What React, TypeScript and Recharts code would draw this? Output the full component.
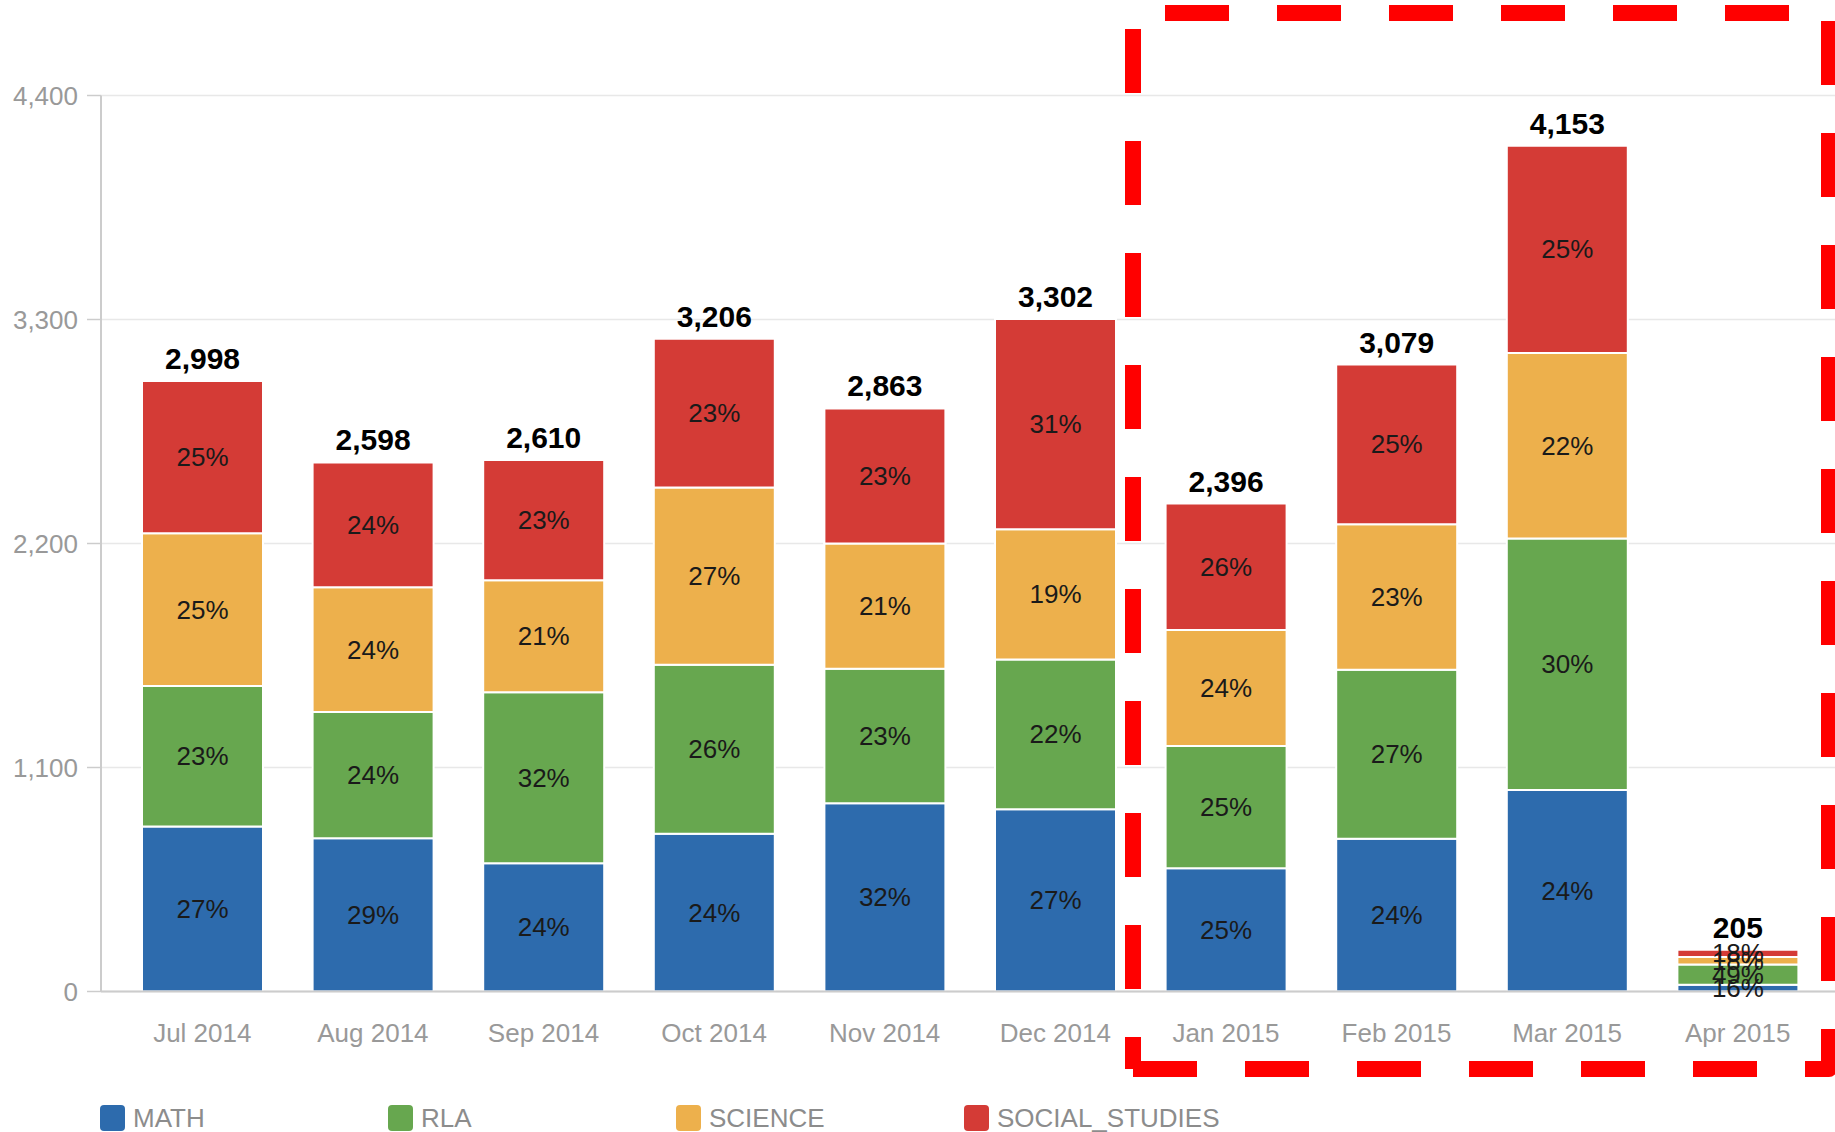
import { BarChart, Bar, XAxis, YAxis, CartesianGrid, LabelList, Legend } from 'recharts'

const months = ['Jul 2014', 'Aug 2014', 'Sep 2014', 'Oct 2014', 'Nov 2014', 'Dec 2014', 'Jan 2015', 'Feb 2015', 'Mar 2015', 'Apr 2015']
const math = [810, 753, 630, 775, 925, 895, 605, 750, 990, 33]
const rla = [690, 620, 840, 830, 660, 735, 600, 830, 1235, 100]
const science = [750, 612, 550, 870, 615, 640, 570, 715, 910, 36]
const socialStudies = [748, 613, 590, 731, 663, 1032, 621, 784, 1018, 36]
const yTicks = [0, 1100, 2200, 3300, 4400]

const FONT = '"Liberation Sans", Arial, sans-serif'

const series = [
  { key: 'MATH', values: math, color: '#2d6bad' },
  { key: 'RLA', values: rla, color: '#67a74f' },
  { key: 'SCIENCE', values: science, color: '#edb04c' },
  { key: 'SOCIAL_STUDIES', values: socialStudies, color: '#d43b36' },
]

const totals = months.map((_, i) => series.reduce((s, se) => s + se.values[i], 0))

const data = months.map((m, i) => {
  const row: Record<string, string | number> = { month: m, total: totals[i] }
  for (const se of series) row[se.key] = se.values[i]
  return row
})

const fmt = (v: number) => v.toLocaleString('en-US')

const pctLabel = (values: number[]) => (props: any) => {
  const { x, y, width, height, index } = props
  const pct = Math.round((values[index] / totals[index]) * 100)
  return (
    <text
      x={Number(x) + Number(width) / 2}
      y={Number(y) + Number(height) / 2}
      textAnchor="middle"
      dominantBaseline="central"
      fontFamily={FONT}
      fontSize={26}
      fill="#1a1a1a"
    >
      {pct}%
    </text>
  )
}

// bold total over each stack
const totalLabel = (props: any) => {
  const { x, y, width, index } = props
  return (
    <text
      x={Number(x) + Number(width) / 2}
      y={Number(y) - 12}
      textAnchor="middle"
      fontFamily={FONT}
      fontSize={30}
      fontWeight="bold"
      fill="#000"
    >
      {fmt(totals[index])}
    </text>
  )
}

function LegendBox() {
  return (
    <div style={{ display: 'flex', fontFamily: FONT }}>
      {series.map((se) => (
        <div key={se.key} style={{ width: 288, display: 'flex', alignItems: 'center' }}>
          <span style={{ width: 25, height: 26, borderRadius: 4, background: se.color, marginRight: 8 }} />
          <span style={{ fontSize: 26, color: '#8c8c8c', lineHeight: '26px' }}>{se.key}</span>
        </div>
      ))}
    </div>
  )
}

export default function App() {
  return (
    <div style={{ position: 'absolute', left: 0, top: 0, width: 1835, height: 1132, background: '#fff', overflow: 'hidden' }}>
      <BarChart
        width={1835}
        height={1132}
        data={data}
        margin={{ top: 95.5, right: 0, bottom: 90.5, left: 0 }}
      >
        <CartesianGrid vertical={false} stroke="#e8e8e8" strokeWidth={1.5} />
        <XAxis
          dataKey="month"
          height={50}
          padding={{ left: 16, right: 12 }}
          tickLine={false}
          tickSize={0}
          tickMargin={32}
          axisLine={{ stroke: '#cccccc', strokeWidth: 2 }}
          tick={{ fontFamily: FONT, fontSize: 26, fill: '#999999' }}
        />
        <YAxis
          width={101}
          domain={[0, 4400]}
          ticks={yTicks}
          interval={0}
          tickFormatter={fmt}
          tickSize={14}
          tickMargin={9}
          tickLine={{ stroke: '#cccccc', strokeWidth: 1.5 }}
          axisLine={{ stroke: '#cccccc', strokeWidth: 2 }}
          tick={{ fontFamily: FONT, fontSize: 26, fill: '#999999' }}
        />
        <Legend
          layout="horizontal"
          verticalAlign="middle"
          align="center"
          content={() => <LegendBox />}
          wrapperStyle={{ left: 100, top: 1105, width: 1300, height: 27 }}
        />
        {series.map((se, si) => (
          <Bar
            key={se.key}
            dataKey={se.key}
            stackId="a"
            fill={se.color}
            stroke="#ffffff"
            strokeWidth={2}
            barSize={121}
            isAnimationActive={false}
          >
            <LabelList dataKey={se.key} content={pctLabel(se.values)} />
            {si === series.length - 1 && <LabelList dataKey={se.key} content={totalLabel} />}
          </Bar>
        ))}
      </BarChart>
      <svg
        width={1835}
        height={1132}
        style={{ position: 'absolute', left: 0, top: 0, pointerEvents: 'none' }}
      >
        <path
          d="M1133,1069 L1829,1069 L1829,13 L1133,13 L1133,1069"
          fill="none"
          stroke="#ff0000"
          strokeWidth={16}
          strokeDasharray="64 48"
          strokeLinejoin="round"
        />
      </svg>
    </div>
  )
}
